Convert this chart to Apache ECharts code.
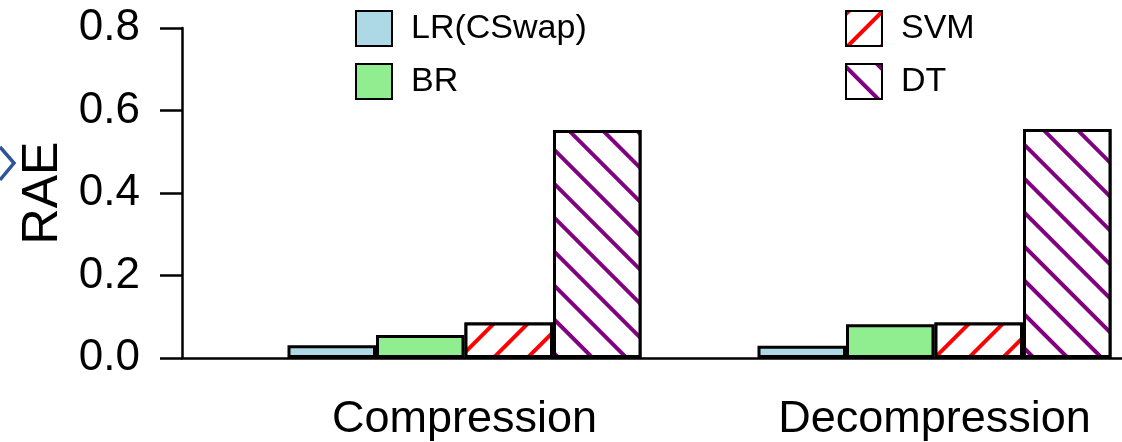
<!DOCTYPE html>
<html>
<head>
<meta charset="utf-8">
<script src="https://cdn.jsdelivr.net/npm/echarts@6/dist/echarts.min.js"></script>
<style>
  html, body { margin: 0; padding: 0; background: #fff; }
  #chart { width: 1122px; height: 442px; }
</style>
</head>
<body>
<div id="chart"></div>
<script>
  const categories = ['Compression', 'Decompression']
  const seriesNames = ['LR(CSwap)', 'BR', 'SVM', 'DT']
  const lrValues = [0.031, 0.030]
  const brValues = [0.056, 0.082]
  const svmValues = [0.086, 0.086]
  const dtValues = [0.553, 0.555]
  const yTicks = [0, 0.2, 0.4, 0.6, 0.8]

  const font = 'Liberation Sans, Arial, sans-serif'
  const chart = echarts.init(document.getElementById('chart'))

  const border = { borderColor: '#000', borderWidth: 3 }
  const hatch = (color, rot) => ({
    symbol: 'rect',
    symbolSize: 1,
    color: color,
    backgroundColor: '#fff',
    dashArrayX: [1, 0],
    dashArrayY: [3.5, 19.5],
    rotation: rot,
  })

  const bar = (name, data, style) => ({
    name: name,
    type: 'bar',
    xAxisIndex: 1,
    yAxisIndex: 1,
    data: data,
    barWidth: 88.5,
    barGap: '0%',
    itemStyle: Object.assign({}, border, style),
  })

  const legendBase = {
    orient: 'vertical', top: 10, padding: 0, icon: 'rect',
    itemWidth: 36, itemHeight: 35, itemGap: 16,
    textStyle: { fontSize: 34, color: '#000', fontFamily: font, padding: [0, 0, 0, 14] },
  }

  chart.setOption({
    animation: false,
    textStyle: { fontFamily: font },
    grid: [
      // axis frame: y axis line and baseline
      { left: 182, right: 0, top: 28, bottom: 84, outerBoundsMode: 'none' },
      // bars, shifted so the two groups sit where they do in the plot
      { left: 229.5, width: 940, top: 28, bottom: 84, outerBoundsMode: 'none', containLabel: false },
    ],
    xAxis: [
      {
        gridIndex: 0, type: 'value', min: 0, max: 1,
        axisLine: { show: true, lineStyle: { color: '#000', width: 2.5 } },
        axisTick: { show: false }, axisLabel: { show: false }, splitLine: { show: false },
      },
      {
        gridIndex: 1, type: 'category', data: categories,
        axisLine: { show: false }, axisTick: { show: false },
        axisLabel: { color: '#000', fontSize: 45, margin: 39, fontFamily: font },
      },
    ],
    yAxis: [
      {
        gridIndex: 0, type: 'value', min: 0, max: 0.8, interval: 0.2,
        name: 'RAE', nameLocation: 'middle', nameGap: 110, nameRotate: 90,
        nameTextStyle: { color: '#000', fontSize: 50, fontFamily: font },
        axisLine: { show: true, lineStyle: { color: '#000', width: 2.5 } },
        axisTick: { show: true, length: 22, lineStyle: { color: '#000', width: 2.5 } },
        axisLabel: {
          color: '#000', fontSize: 44, margin: 42, fontFamily: font,
          formatter: v => yTicks.includes(+v.toFixed(1)) ? v.toFixed(1) : '',
        },
        splitLine: { show: false },
      },
      {
        gridIndex: 1, type: 'value', min: 0, max: 0.8, show: false,
      },
    ],
    legend: [
      Object.assign({ data: ['LR(CSwap)', 'BR'], left: 355 }, legendBase),
      Object.assign({ data: ['SVM', 'DT'], left: 845 }, legendBase),
    ],
    series: [
      bar(seriesNames[0], lrValues, { color: '#add8e6' }),
      bar(seriesNames[1], brValues, { color: '#90ee90' }),
      bar(seriesNames[2], svmValues, { color: '#fff', decal: hatch('#ff0000', -Math.PI / 4) }),
      bar(seriesNames[3], dtValues, { color: '#fff', decal: hatch('#800080', Math.PI / 4) }),
    ],
    graphic: [
      {
        type: 'polyline',
        shape: { points: [[0, 147], [14, 163], [0, 180]] },
        style: { stroke: '#2e5597', lineWidth: 3.5, fill: null },
      },
    ],
  })
</script>
</body>
</html>
